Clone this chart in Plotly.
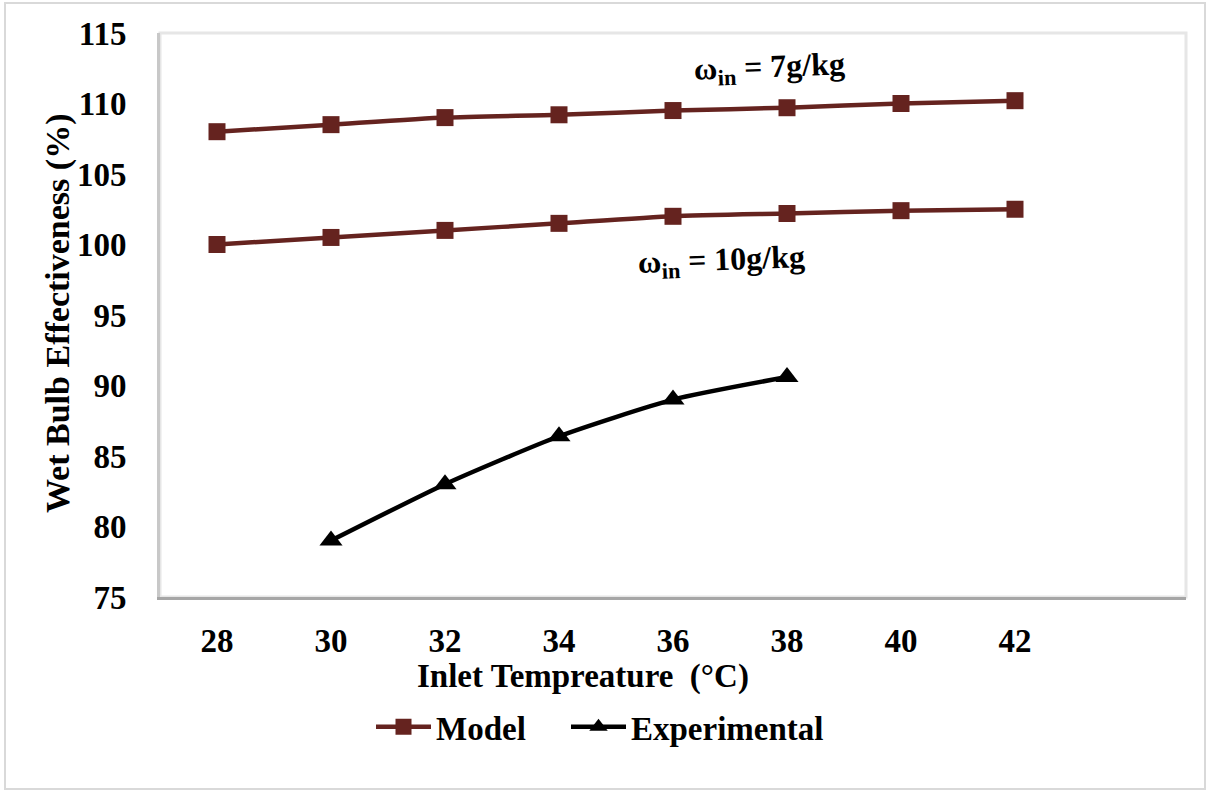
import plotly.graph_objects as go

temps_model = [28, 30, 32, 34, 36, 38, 40, 42]
model_7gkg = [108.0, 108.5, 109.0, 109.2, 109.5, 109.7, 110.0, 110.2]
model_10gkg = [100.0, 100.5, 101.0, 101.5, 102.0, 102.2, 102.4, 102.5]
temps_exp = [30, 32, 34, 36, 38]
experimental = [79.0, 83.0, 86.4, 89.0, 90.6]
x_ticks = [28, 30, 32, 34, 36, 38, 40, 42]
y_ticks = [75, 80, 85, 90, 95, 100, 105, 110, 115]

MAROON = "#65231f"
FONT = "Liberation Serif"
FS = 33

fig = go.Figure()
fig.add_trace(go.Scatter(x=temps_model, y=model_7gkg, mode="lines+markers", name="Model",
                         legend="legend",
                         line=dict(color=MAROON, width=4.5, shape="spline", smoothing=0.6),
                         marker=dict(symbol="square", size=17, color=MAROON)))
fig.add_trace(go.Scatter(x=temps_model, y=model_10gkg, mode="lines+markers", name="Model",
                         showlegend=False,
                         line=dict(color=MAROON, width=4.5, shape="spline", smoothing=0.6),
                         marker=dict(symbol="square", size=17, color=MAROON)))
fig.add_trace(go.Scatter(x=temps_exp, y=experimental, mode="lines+markers", name="Experimental",
                         legend="legend2",
                         line=dict(color="#000000", width=4.5, shape="spline", smoothing=0.6),
                         marker=dict(symbol="triangle-up", size=20, color="#000000")))

L, R, T, B = 160, 21, 33, 196
W, H = 1207, 793
pw, ph = W - L - R, H - T - B

legend_common = dict(orientation="h", y=-0.23, yanchor="middle", xanchor="left",
                     font=dict(family=FONT, size=FS, weight="bold"), itemwidth=55,
                     bgcolor="rgba(0,0,0,0)")

fig.update_layout(
    width=W, height=H,
    margin=dict(l=L, r=R, t=T, b=B, autoexpand=False),
    paper_bgcolor="white", plot_bgcolor="white",
    font=dict(family=FONT, color="black", size=FS, weight="bold"),
    showlegend=True,
    legend=dict(x=(371 - L) / pw, **legend_common),
    legend2=dict(x=(566 - L) / pw, **legend_common),
    xaxis=dict(range=[27, 45], tickvals=x_ticks, ticktext=[str(v) for v in x_ticks],
               showgrid=False, zeroline=False, showline=True, linecolor="#a6a6a6", linewidth=3,
               ticks="", ticklabelstandoff=12,
               tickfont=dict(family=FONT, size=FS, weight="bold")),
    yaxis=dict(range=[75, 115], tickvals=y_ticks, ticktext=[str(v) for v in y_ticks],
               showgrid=False, zeroline=False, showline=True, linecolor="#c8c8c8", linewidth=3,
               ticks="", ticklabelstandoff=24,
               tickfont=dict(family=FONT, size=FS, weight="bold")),
    shapes=[
        dict(type="rect", xref="paper", yref="paper",
             x0=(5 - L) / pw, x1=(W - 2 - L) / pw, y0=-(H - 4 - T - ph) / ph, y1=(ph + T - 3) / ph,
             line=dict(color="#d9d9d9", width=2), fillcolor="rgba(0,0,0,0)", layer="below"),
        dict(type="rect", xref="paper", yref="paper", x0=0, x1=1, y0=0, y1=1,
             line=dict(color="#e6e6e6", width=3), fillcolor="rgba(0,0,0,0)", layer="below"),
    ],
    annotations=[
        dict(x=(583 - L) / pw, y=(597 - 676) / ph, xref="paper", yref="paper", showarrow=False,
             xanchor="center", yanchor="middle",
             text="Inlet Tempreature  (°C)", font=dict(family=FONT, size=FS, weight="bold")),
        dict(x=(58 - L) / pw, y=(597 - 314) / ph, xref="paper", yref="paper", showarrow=False,
             xanchor="center", yanchor="middle",
             textangle=-90, text="Wet Bulb Effectiveness (%)",
             font=dict(family=FONT, size=34, weight="bold")),
        dict(x=37.7, y=112.5, xref="x", yref="y", showarrow=False, textangle=-2,
             text="ω<sub>in</sub> = 7g/kg", font=dict(family=FONT, size=32, weight="bold")),
        dict(x=36.85, y=98.8, xref="x", yref="y", showarrow=False, textangle=-2,
             text="ω<sub>in</sub> = 10g/kg", font=dict(family=FONT, size=32, weight="bold")),
    ],
)

fig.write_html("out.html", config={"displayModeBar": False},
               post_script="document.body.style.margin='0';document.body.style.overflow='hidden';")
